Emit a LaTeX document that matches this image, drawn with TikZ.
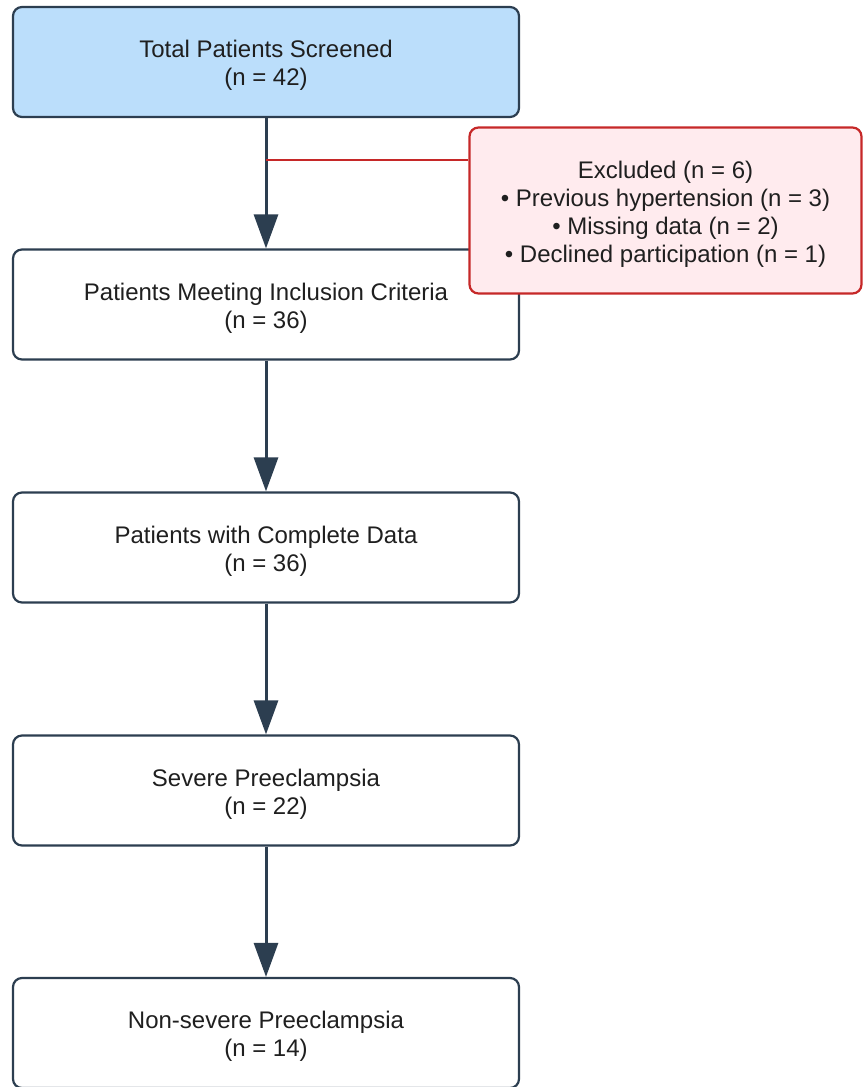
\documentclass[tikz,border=0pt]{standalone}
\usepackage{fontspec}
\setmainfont{Liberation Sans}
\usetikzlibrary{arrows.meta}
\definecolor{edgec}{HTML}{2C3E50}
\definecolor{txtc}{HTML}{1F1F1F}
\definecolor{bluef}{HTML}{BBDEFB}
\definecolor{pinkf}{HTML}{FFEBEE}
\definecolor{redc}{HTML}{C62828}
\newcommand\topstrut{\rule{0pt}{24pt}}
\begin{document}
\begin{tikzpicture}[x=1pt,y=-1pt,
  box/.style={draw=edgec, line width=2.2pt, rounded corners=9pt, minimum width=506pt, minimum height=110pt,
    inner sep=0pt, align=center, font=\fontsize{24}{28}\selectfont, text=txtc, fill=white},
  exbox/.style={box, draw=redc, fill=pinkf, minimum width=392pt, minimum height=166pt},
  flow/.style={draw=edgec, line width=3pt, -{Triangle[width=24pt,length=34pt]}},
  exline/.style={draw=redc, line width=2.8pt}]
\useasboundingbox (0,0) rectangle (863,1087);
\node[box, fill=bluef] (b1) at (266,62) {\topstrut Total Patients Screened\\(n = 42)};
\node[box] (b2) at (266,304.5) {\topstrut Patients Meeting Inclusion Criteria\\(n = 36)};
\node[box] (b3) at (266,547.5) {\topstrut Patients with Complete Data\\(n = 36)};
\node[box] (b4) at (266,790.5) {\topstrut Severe Preeclampsia\\(n = 22)};
\node[box] (b5) at (266,1033) {\topstrut Non-severe Preeclampsia\\(n = 14)};
\draw[flow] (b1) -- (b2);
\draw[flow] (b2) -- (b3);
\draw[flow] (b3) -- (b4);
\draw[flow] (b4) -- (b5);
\coordinate (split) at (266,160);
\node[exbox] (ex) at (665.5,210.5) {\topstrut Excluded (n = 6)\\\textbullet{} Previous hypertension (n = 3)\\\textbullet{} Missing data (n = 2)\\\textbullet{} Declined participation (n = 1)};
\draw[exline] (split) -- (split -| ex.west);
\end{tikzpicture}
\end{document}
